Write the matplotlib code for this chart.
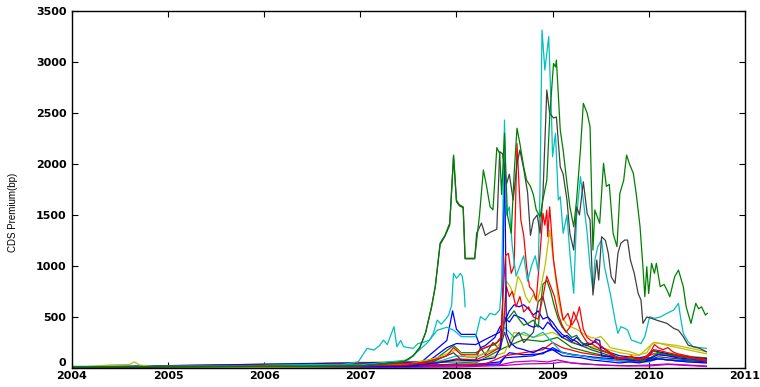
import numpy as np
import matplotlib
matplotlib.use("Agg")
from matplotlib import pyplot as plt

plt.rcParams['font.family'] = ['Liberation Sans', 'DejaVu Sans']

# classic MATLAB line colours
C_B = (0, 0, 1)
C_G = (0, 0.5, 0)
C_R = (1, 0, 0)
C_C = (0, 0.75, 0.75)
C_M = (0.75, 0, 0.75)
C_Y = (0.75, 0.75, 0)
C_K = (0.25, 0.25, 0.25)

# CDS premium series (decimal year, bp)
t_green_big = [2004.0, 2007.0, 2007.45, 2007.55, 2007.62, 2007.68, 2007.74, 2007.78, 2007.83, 2007.88,
               2007.93, 2007.97, 2008.0, 2008.03, 2008.07, 2008.09, 2008.19, 2008.24, 2008.28, 2008.31,
               2008.35, 2008.38, 2008.42, 2008.45, 2008.47, 2008.50, 2008.53, 2008.57, 2008.60, 2008.63,
               2008.66, 2008.70, 2008.73, 2008.77, 2008.80, 2008.83, 2008.87, 2008.90, 2008.94, 2008.97,
               2009.01, 2009.03, 2009.04, 2009.08, 2009.11, 2009.15, 2009.18, 2009.22, 2009.25, 2009.29,
               2009.32, 2009.36, 2009.39, 2009.42, 2009.44, 2009.49, 2009.53, 2009.56, 2009.59, 2009.63,
               2009.67, 2009.70, 2009.74, 2009.77, 2009.80, 2009.84, 2009.87, 2009.91, 2009.94, 2009.96,
               2009.98, 2010.0, 2010.03, 2010.06, 2010.08, 2010.12, 2010.16, 2010.19, 2010.22, 2010.27,
               2010.31, 2010.36, 2010.39, 2010.44, 2010.49, 2010.52, 2010.55, 2010.59, 2010.61]
v_green_big = [10, 20, 60, 120, 206, 350, 600, 800, 1225, 1300,
               1420, 2087, 1646, 1600, 1580, 1076, 1076, 1500, 1940, 1800,
               1580, 1550, 2160, 2100, 1700, 2300, 1500, 1320, 1900, 2350,
               2200, 1970, 1840, 1780, 1700, 1550, 1480, 1650, 1840, 2460,
               2985, 2950, 3018, 2332, 2136, 1810, 1580, 1385, 1646, 2136,
               2594, 2497, 2365, 1156, 1548, 1418, 2006, 1780, 1800, 1320,
               1189, 1710, 1840, 2087, 2000, 1908, 1710, 1385, 993, 699,
               993, 730, 1026, 928, 1026, 797, 820, 764, 699, 895,
               960, 797, 600, 438, 634, 580, 600, 520, 536]

t_gray_big = [2004.0, 2007.0, 2007.45, 2007.55, 2007.62, 2007.68, 2007.74, 2007.78, 2007.83, 2007.88,
              2007.93, 2007.97, 2008.0, 2008.03, 2008.07, 2008.09, 2008.19, 2008.21, 2008.26, 2008.30,
              2008.35, 2008.42, 2008.45, 2008.48, 2008.52, 2008.55, 2008.59, 2008.63, 2008.66, 2008.70,
              2008.74, 2008.77, 2008.80, 2008.84, 2008.87, 2008.90, 2008.94, 2008.97, 2009.01, 2009.04,
              2009.08, 2009.11, 2009.15, 2009.18, 2009.22, 2009.25, 2009.28, 2009.32, 2009.36, 2009.39,
              2009.42, 2009.46, 2009.48, 2009.51, 2009.55, 2009.58, 2009.61, 2009.65, 2009.68, 2009.71,
              2009.75, 2009.78, 2009.81, 2009.85, 2009.89, 2009.92, 2009.94, 2009.98, 2010.03, 2010.08,
              2010.13, 2010.19, 2010.26, 2010.31, 2010.36, 2010.41, 2010.46, 2010.53, 2010.60]
v_gray_big = [10, 20, 60, 120, 200, 350, 590, 800, 1210, 1290,
              1400, 2070, 1630, 1590, 1570, 1070, 1070, 1320, 1420, 1300,
              1330, 1360, 2120, 2100, 1800, 1900, 1646, 2000, 2136, 1950,
              1720, 1300, 1450, 1500, 1320, 1700, 2724, 2495, 2450, 2460,
              1972, 1900, 1646, 1320, 1156, 1580, 1500, 1825, 1515, 1450,
              715, 1058, 862, 1287, 1250, 1124, 895, 830, 1124, 1222,
              1254, 1254, 1058, 928, 732, 666, 438, 500, 487, 470,
              455, 438, 389, 370, 307, 225, 210, 193, 160]

t_cyan_big = [2004.0, 2006.0, 2007.0, 2007.5, 2007.7, 2007.8, 2007.9, 2007.97, 2008.05, 2008.2,
              2008.25, 2008.3, 2008.35, 2008.4, 2008.45, 2008.47, 2008.50, 2008.52, 2008.55, 2008.58,
              2008.62, 2008.66, 2008.70, 2008.74, 2008.78, 2008.82, 2008.85, 2008.87, 2008.89, 2008.92,
              2008.96, 2008.99, 2009.0, 2009.03, 2009.06, 2009.08, 2009.11, 2009.15, 2009.18, 2009.22,
              2009.25, 2009.29, 2009.32, 2009.36, 2009.39, 2009.42, 2009.44, 2009.47, 2009.51, 2009.54,
              2009.60, 2009.65, 2009.68, 2009.71, 2009.75, 2009.78, 2009.82, 2009.87, 2009.92, 2009.96,
              2010.01, 2010.06, 2010.12, 2010.19, 2010.26, 2010.31, 2010.33, 2010.36, 2010.41, 2010.46,
              2010.53, 2010.60]
v_cyan_big = [15, 20, 30, 80, 250, 370, 400, 372, 307, 307,
              503, 470, 536, 520, 568, 800, 2430, 1500, 1580, 1200,
              900, 1000, 1100, 850, 1000, 1100, 950, 1777, 3312, 2920,
              3247, 2430, 2070, 2300, 1646, 1679, 1320, 1500, 1124, 732,
              1483, 1875, 1646, 1320, 993, 764, 1058, 1189, 1254, 993,
              732, 470, 340, 405, 390, 372, 274, 258, 240, 307,
              503, 487, 500, 536, 568, 634, 503, 340, 258, 210,
              200, 193]

t_cyan_early = [2006.0, 2006.5, 2006.8, 2006.98, 2007.07, 2007.14, 2007.2, 2007.24, 2007.28, 2007.35,
                2007.38, 2007.42, 2007.45, 2007.5, 2007.55, 2007.6, 2007.65, 2007.72, 2007.76, 2007.80,
                2007.84, 2007.88, 2007.92, 2007.95, 2007.97, 2008.0, 2008.02, 2008.04, 2008.06, 2008.08,
                2008.09]
v_cyan_early = [25, 35, 30, 62, 193, 176, 220, 274, 230, 405,
                209, 270, 209, 200, 193, 240, 250, 274, 340, 470,
                430, 470, 520, 617, 928, 880, 900, 928, 900, 764,
                600]

t_red1 = [2004.0, 2007.5, 2007.7, 2007.9, 2007.97, 2008.05, 2008.2, 2008.25, 2008.35, 2008.42,
          2008.46, 2008.49, 2008.51, 2008.54, 2008.57, 2008.60, 2008.63, 2008.65, 2008.67, 2008.70,
          2008.73, 2008.76, 2008.80, 2008.83, 2008.87, 2008.90, 2008.92, 2008.94, 2008.95, 2008.97,
          2009.01, 2009.04, 2009.08, 2009.11, 2009.16, 2009.20, 2009.25, 2009.28, 2009.32, 2009.36,
          2009.40, 2009.45, 2009.5, 2009.56, 2009.62, 2009.67, 2009.72, 2009.77, 2009.82, 2009.87,
          2009.92, 2009.98, 2010.02, 2010.06, 2010.10, 2010.15, 2010.2, 2010.25, 2010.3, 2010.35,
          2010.4, 2010.45, 2010.5, 2010.55, 2010.6]
v_red1 = [5, 30, 60, 120, 200, 130, 130, 180, 220, 250,
          300, 800, 1100, 1124, 928, 1000, 2200, 1810, 1450, 1300,
          993, 797, 750, 666, 1124, 1516, 1400, 1548, 1287, 1580,
          1058, 862, 634, 470, 536, 420, 500, 600, 380, 300,
          270, 250, 220, 176, 140, 78, 110, 100, 120, 78,
          90, 120, 160, 230, 200, 180, 200, 160, 140, 130,
          120, 110, 90, 100, 80]

t_red2 = [2004.0, 2007.8, 2008.0, 2008.2, 2008.3, 2008.45, 2008.49, 2008.52, 2008.55, 2008.58,
          2008.62, 2008.66, 2008.70, 2008.75, 2008.80, 2008.85, 2008.9, 2008.94, 2008.98, 2009.02,
          2009.06, 2009.10, 2009.14, 2009.18, 2009.22, 2009.26, 2009.30, 2009.36, 2009.42, 2009.5,
          2009.58, 2009.65, 2009.72, 2009.8, 2009.9, 2009.98, 2010.05, 2010.12, 2010.2, 2010.3,
          2010.4, 2010.5, 2010.6]
v_red2 = [5, 50, 90, 80, 120, 200, 400, 800, 700, 750,
          600, 700, 550, 600, 500, 480, 700, 900, 800, 700,
          520, 420, 350, 400, 550, 460, 340, 250, 230, 180,
          150, 100, 90, 110, 90, 100, 180, 170, 150, 130,
          110, 90, 70]

t_blue_spike = [2004.0, 2007.5, 2007.8, 2008.0, 2008.2, 2008.4, 2008.46, 2008.48, 2008.50, 2008.52,
                2008.56, 2008.62, 2008.7, 2008.8, 2008.9, 2009.0, 2009.1, 2009.2, 2009.3, 2009.4,
                2009.5, 2009.6, 2009.7, 2009.8, 2009.9, 2010.0, 2010.1, 2010.2, 2010.3, 2010.4,
                2010.5, 2010.6]
v_blue_spike = [10, 20, 50, 80, 70, 100, 200, 600, 2200, 340,
                250, 200, 180, 150, 200, 180, 120, 110, 100, 80,
                70, 60, 50, 60, 50, 70, 90, 80, 70, 60,
                55, 50]

t_blue_mid = [2004.0, 2007.6, 2007.75, 2007.9, 2007.96, 2008.0, 2008.05, 2008.2, 2008.25, 2008.3,
              2008.4, 2008.45, 2008.5, 2008.55, 2008.6, 2008.65, 2008.7, 2008.75, 2008.8, 2008.85,
              2008.9, 2008.95, 2009.0, 2009.05, 2009.1, 2009.15, 2009.2, 2009.25, 2009.3, 2009.35,
              2009.4, 2009.45, 2009.5, 2009.55, 2009.6, 2009.7, 2009.8, 2009.9, 2010.0, 2010.05,
              2010.1, 2010.2, 2010.3, 2010.4, 2010.5, 2010.6]
v_blue_mid = [8, 30, 150, 270, 560, 380, 330, 330, 200, 220,
              300, 400, 450, 560, 620, 600, 620, 580, 520, 560,
              480, 500, 450, 380, 330, 300, 260, 300, 250, 220,
              240, 260, 210, 180, 150, 120, 110, 100, 120, 170,
              160, 140, 120, 110, 100, 90]

t_blue3 = [2004.0, 2007.7, 2007.9, 2008.0, 2008.2, 2008.3, 2008.45, 2008.5, 2008.55, 2008.6,
           2008.7, 2008.75, 2008.8, 2008.85, 2008.9, 2008.95, 2009.0, 2009.05, 2009.1, 2009.15,
           2009.2, 2009.25, 2009.3, 2009.35, 2009.4, 2009.45, 2009.49, 2009.51, 2009.6, 2009.7,
           2009.8, 2009.9, 2010.0, 2010.1, 2010.2, 2010.3, 2010.4, 2010.5, 2010.6]
v_blue3 = [10, 60, 200, 240, 230, 280, 350, 500, 450, 520,
           480, 420, 400, 420, 380, 450, 400, 350, 300, 320,
           280, 260, 220, 240, 230, 280, 270, 120, 110, 90,
           80, 70, 90, 130, 120, 100, 90, 85, 80]

t_yellow = [2004.0, 2004.4, 2004.6, 2004.65, 2004.7, 2004.85, 2005.0, 2006.5, 2007.0, 2007.5,
            2007.8, 2008.0, 2008.1, 2008.2, 2008.3, 2008.4, 2008.46, 2008.49, 2008.52, 2008.56,
            2008.60, 2008.64, 2008.68, 2008.72, 2008.76, 2008.80, 2008.84, 2008.88, 2008.92, 2008.95,
            2008.97, 2009.0, 2009.03, 2009.06, 2009.1, 2009.15, 2009.2, 2009.25, 2009.3, 2009.35,
            2009.4, 2009.45, 2009.5, 2009.55, 2009.6, 2009.7, 2009.8, 2009.9, 2009.98, 2010.03,
            2010.06, 2010.12, 2010.2, 2010.3, 2010.4, 2010.5, 2010.6]
v_yellow = [5, 30, 35, 60, 30, 15, 5, 10, 15, 40,
            100, 180, 110, 110, 150, 180, 250, 500, 850, 797,
            700, 900, 830, 700, 640, 720, 650, 800, 990, 1200,
            1350, 1124, 900, 666, 500, 420, 400, 380, 350, 320,
            300, 290, 310, 260, 200, 180, 160, 130, 150, 230,
            250, 240, 220, 200, 180, 160, 140]

t_green2 = [2004.0, 2007.6, 2007.8, 2007.97, 2008.05, 2008.2, 2008.3, 2008.4, 2008.46, 2008.5,
            2008.55, 2008.6, 2008.65, 2008.7, 2008.75, 2008.8, 2008.85, 2008.9, 2008.94, 2008.98,
            2009.02, 2009.06, 2009.1, 2009.15, 2009.2, 2009.25, 2009.3, 2009.35, 2009.4, 2009.5,
            2009.6, 2009.7, 2009.8, 2009.9, 2009.95, 2010.0, 2010.04, 2010.1, 2010.2, 2010.3,
            2010.4, 2010.5, 2010.6]
v_green2 = [8, 40, 100, 220, 150, 150, 200, 230, 280, 450,
            500, 560, 480, 420, 440, 470, 400, 820, 860, 750,
            600, 480, 400, 350, 300, 320, 250, 230, 200, 170,
            140, 100, 90, 80, 70, 130, 170, 150, 130, 120,
            100, 90, 80]

t_gray2 = [2004.0, 2007.7, 2007.97, 2008.05, 2008.2, 2008.25, 2008.3, 2008.38, 2008.45, 2008.5,
           2008.55, 2008.6, 2008.65, 2008.7, 2008.75, 2008.8, 2008.85, 2008.9, 2008.95, 2009.0,
           2009.05, 2009.1, 2009.2, 2009.3, 2009.4, 2009.5, 2009.6, 2009.7, 2009.8, 2009.9,
           2010.0, 2010.1, 2010.2, 2010.3, 2010.4, 2010.5, 2010.6]
v_gray2 = [5, 40, 150, 80, 80, 200, 130, 250, 180, 350,
           200, 300, 350, 250, 300, 350, 650, 700, 500, 400,
           350, 300, 250, 220, 180, 150, 120, 90, 80, 70,
           80, 110, 100, 90, 80, 75, 70]

t_magenta = [2004.0, 2007.5, 2008.0, 2008.45, 2008.6, 2008.8, 2008.95, 2009.05, 2009.2, 2009.5,
             2009.8, 2010.0, 2010.2, 2010.4, 2010.6]
v_magenta = [5, 10, 20, 30, 60, 70, 60, 80, 50, 30,
             20, 30, 40, 30, 20]

t_magenta2 = [2004.0, 2008.0, 2008.5, 2008.7, 2009.0, 2009.1, 2009.3, 2009.6, 2010.0, 2010.2, 2010.6]
v_magenta2 = [3, 10, 25, 40, 45, 60, 40, 25, 20, 35, 15]

t_cyan3 = [2004.0, 2007.8, 2008.0, 2008.2, 2008.3, 2008.45, 2008.5, 2008.55, 2008.6, 2008.7,
           2008.8, 2008.9, 2009.0, 2009.05, 2009.1, 2009.2, 2009.3, 2009.4, 2009.6, 2009.8,
           2010.0, 2010.1, 2010.3, 2010.6]
v_cyan3 = [10, 60, 120, 100, 150, 200, 400, 350, 300, 350,
           300, 350, 250, 200, 150, 130, 120, 100, 80, 60,
           60, 90, 70, 50]

t_blue4 = [2004.0, 2006.0, 2007.5, 2008.0, 2008.2, 2008.45, 2008.55, 2008.7, 2008.9, 2009.0,
           2009.1, 2009.3, 2009.5, 2009.7, 2009.9, 2010.1, 2010.3, 2010.6]
v_blue4 = [15, 12, 15, 40, 35, 60, 150, 130, 140, 200,
           150, 120, 90, 70, 60, 90, 70, 60]

t_red3 = [2004.0, 2007.9, 2008.3, 2008.5, 2008.7, 2008.9, 2009.0, 2009.1, 2009.3, 2009.5,
          2009.7, 2009.9, 2010.05, 2010.3, 2010.6]
v_red3 = [3, 30, 40, 120, 150, 180, 250, 200, 150, 120,
          100, 80, 140, 110, 90]

t_green3 = [2004.0, 2008.0, 2008.2, 2008.5, 2008.7, 2008.9, 2009.05, 2009.2, 2009.4, 2009.6,
            2009.8, 2010.0, 2010.1, 2010.3, 2010.6]
v_green3 = [5, 60, 50, 200, 280, 260, 300, 200, 150, 110,
            80, 90, 150, 120, 100]

t_yellow2 = [2004.0, 2007.9, 2008.2, 2008.5, 2008.6, 2008.8, 2009.0, 2009.1, 2009.3, 2009.5,
             2009.7, 2009.9, 2010.05, 2010.3, 2010.6]
v_yellow2 = [5, 70, 60, 150, 350, 300, 350, 300, 220, 200,
             150, 120, 250, 220, 160]

t_blue5 = [2004.0, 2008.0, 2008.45, 2008.5, 2008.8, 2009.0, 2009.2, 2009.5, 2009.8, 2010.0, 2010.2, 2010.6]
v_blue5 = [8, 30, 40, 100, 120, 180, 130, 100, 80, 100, 80, 60]

series = [
    (t_magenta2, v_magenta2, C_M),
    (t_magenta, v_magenta, C_M),
    (t_blue5, v_blue5, C_B),
    (t_blue4, v_blue4, C_B),
    (t_red3, v_red3, C_R),
    (t_green3, v_green3, C_G),
    (t_yellow2, v_yellow2, C_Y),
    (t_cyan3, v_cyan3, C_C),
    (t_gray2, v_gray2, C_K),
    (t_blue3, v_blue3, C_B),
    (t_blue_mid, v_blue_mid, C_B),
    (t_green2, v_green2, C_G),
    (t_yellow, v_yellow, C_Y),
    (t_red2, v_red2, C_R),
    (t_cyan_early, v_cyan_early, C_C),
    (t_blue_spike, v_blue_spike, C_B),
    (t_red1, v_red1, C_R),
    (t_cyan_big, v_cyan_big, C_C),
    (t_gray_big, v_gray_big, C_K),
    (t_green_big, v_green_big, C_G),
]

fig = plt.figure(figsize=(7.6, 3.87), dpi=100)
ax = fig.add_axes([0.0947, 0.049, 0.8853, 0.923])

for t, v, col in series:
    ax.plot(t, v, color=col, lw=0.9)

ax.set_xlim(2004, 2011)
ax.set_ylim(0, 3500)
ax.set_xticks(np.arange(2004, 2012))
ax.set_yticks(np.arange(0, 3501, 500))
ax.tick_params(direction='in', top=True, right=True, length=4, width=0.8,
               labelsize=8, pad=2)
ax.tick_params(axis='y', pad=4)
for lab in ax.get_xticklabels() + ax.get_yticklabels():
    lab.set_fontweight('bold')
    lab.set_family('DejaVu Sans')
# the "0" sits just above its tick so it clears the first year label
ax.get_yticklabels()[0].set_verticalalignment('bottom')

for sp in ax.spines.values():
    sp.set_linewidth(1.0)

ax.set_ylabel('CDS Premium(bp)', fontsize=7)
ax.yaxis.set_label_coords(-0.080, 0.437)

fig.savefig('out.png', dpi=100)
